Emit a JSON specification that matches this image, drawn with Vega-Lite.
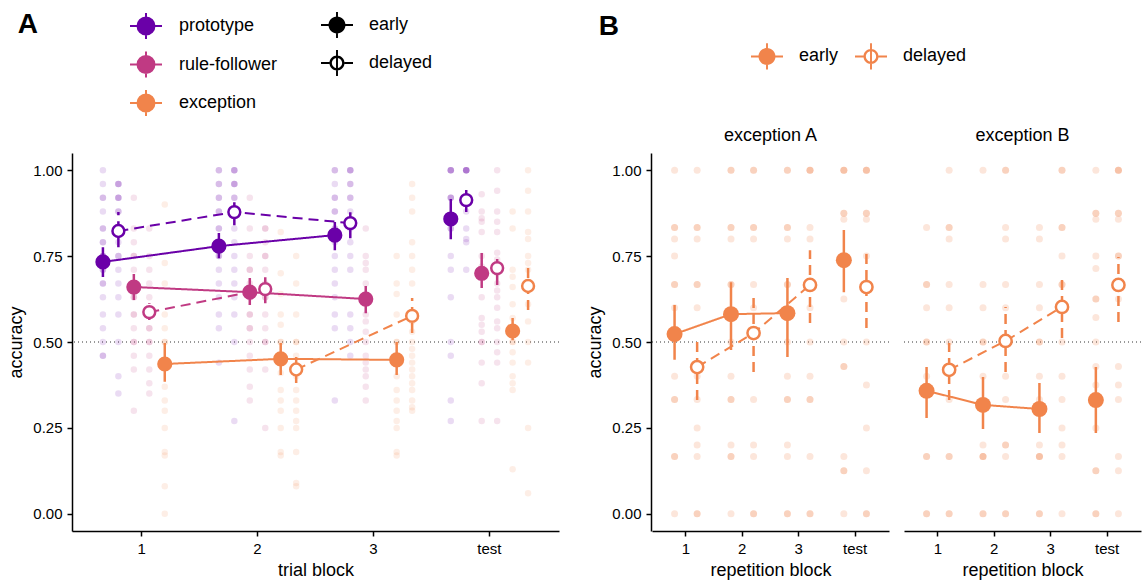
{
"$schema": "https://vega.github.io/schema/vega-lite/v6.json",
"padding": {"left": 7, "top": 9, "right": 2, "bottom": 2},
"config": {
 "font": "Liberation Sans",
 "view": {"stroke": null},
 "axis": {"domainColor": "black", "domainWidth": 1.5, "tickColor": "black", "tickWidth": 1.5, "tickSize": 5, "labelColor": "black", "labelFontSize": 15, "titleFontSize": 18, "titleFontWeight": "normal", "titleColor": "black", "grid": false, "labelPadding": 5, "titlePadding": 7},
 "axisX": {"labelAngle": 0, "labelPadding": 5, "titlePadding": 5},
 "legend": {"labelColor": "black"},
 "title": {"color": "black"}
},
"resolve": {"scale": {"shape": "independent", "xOffset": "independent"}, "legend": {"color": "independent", "shape": "independent"}},
"spacing": 26,
"datasets": {
 "sumA": [
  {"g":"prototype","t":"early","s":"pe","b":"1","m":0.733,"lo":0.689,"hi":0.776},
  {"g":"prototype","t":"early","s":"pe","b":"2","m":0.779,"lo":0.744,"hi":0.817},
  {"g":"prototype","t":"early","s":"pe","b":"3","m":0.811,"lo":0.767,"hi":0.849},
  {"g":"prototype","t":"early","s":"pe","b":"test","m":0.858,"lo":0.799,"hi":0.916},
  {"g":"prototype","t":"delayed","s":"pd","b":"1","m":0.823,"lo":0.776,"hi":0.878},
  {"g":"prototype","t":"delayed","s":"pd","b":"2","m":0.878,"lo":0.840,"hi":0.907},
  {"g":"prototype","t":"delayed","s":"pd","b":"3","m":0.846,"lo":0.802,"hi":0.887},
  {"g":"prototype","t":"delayed","s":"pd","b":"test","m":0.913,"lo":0.878,"hi":0.942},
  {"g":"rule-follower","t":"early","s":"re","b":"1","m":0.660,"lo":0.622,"hi":0.698},
  {"g":"rule-follower","t":"early","s":"re","b":"2","m":0.645,"lo":0.608,"hi":0.686},
  {"g":"rule-follower","t":"early","s":"re","b":"3","m":0.625,"lo":0.584,"hi":0.663},
  {"g":"rule-follower","t":"early","s":"re","b":"test","m":0.700,"lo":0.657,"hi":0.759},
  {"g":"rule-follower","t":"delayed","s":"rd","b":"1","m":0.587,"lo":0.564,"hi":0.613},
  {"g":"rule-follower","t":"delayed","s":"rd","b":"2","m":0.654,"lo":0.613,"hi":0.689},
  {"g":"rule-follower","t":"delayed","s":"rd","b":"test","m":0.715,"lo":0.666,"hi":0.759},
  {"g":"exception","t":"early","s":"ee","b":"1","m":0.436,"lo":0.384,"hi":0.497},
  {"g":"exception","t":"early","s":"ee","b":"2","m":0.451,"lo":0.404,"hi":0.497},
  {"g":"exception","t":"early","s":"ee","b":"3","m":0.448,"lo":0.404,"hi":0.500},
  {"g":"exception","t":"early","s":"ee","b":"test","m":0.532,"lo":0.505,"hi":0.570},
  {"g":"exception","t":"delayed","s":"ed","b":"2","m":0.420,"lo":0.381,"hi":0.462},
  {"g":"exception","t":"delayed","s":"ed","b":"3","m":0.576,"lo":0.526,"hi":0.628},
  {"g":"exception","t":"delayed","s":"ed","b":"test","m":0.663,"lo":0.593,"hi":0.733}
 ],
 "dotsA": [
  {"g":"prototype","s":"pe","b":"1","v":1},{"g":"prototype","s":"pe","b":"1","v":0.96},{"g":"prototype","s":"pe","b":"1","v":0.92},{"g":"prototype","s":"pe","b":"1","v":0.92},{"g":"prototype","s":"pe","b":"1","v":0.88},{"g":"prototype","s":"pe","b":"1","v":0.83},{"g":"prototype","s":"pe","b":"1","v":0.83},{"g":"prototype","s":"pe","b":"1","v":0.79},{"g":"prototype","s":"pe","b":"1","v":0.79},{"g":"prototype","s":"pe","b":"1","v":0.75},{"g":"prototype","s":"pe","b":"1","v":0.75},{"g":"prototype","s":"pe","b":"1","v":0.75},{"g":"prototype","s":"pe","b":"1","v":0.71},{"g":"prototype","s":"pe","b":"1","v":0.71},{"g":"prototype","s":"pe","b":"1","v":0.67},{"g":"prototype","s":"pe","b":"1","v":0.67},{"g":"prototype","s":"pe","b":"1","v":0.63},{"g":"prototype","s":"pe","b":"1","v":0.58},{"g":"prototype","s":"pe","b":"1","v":0.54},{"g":"prototype","s":"pe","b":"1","v":0.5},{"g":"prototype","s":"pe","b":"1","v":0.46},{"g":"prototype","s":"pe","b":"1","v":0.46},
  {"g":"prototype","s":"pd","b":"1","v":0.96},{"g":"prototype","s":"pd","b":"1","v":0.96},{"g":"prototype","s":"pd","b":"1","v":0.96},{"g":"prototype","s":"pd","b":"1","v":0.92},{"g":"prototype","s":"pd","b":"1","v":0.92},{"g":"prototype","s":"pd","b":"1","v":0.92},{"g":"prototype","s":"pd","b":"1","v":0.88},{"g":"prototype","s":"pd","b":"1","v":0.88},{"g":"prototype","s":"pd","b":"1","v":0.83},{"g":"prototype","s":"pd","b":"1","v":0.83},{"g":"prototype","s":"pd","b":"1","v":0.79},{"g":"prototype","s":"pd","b":"1","v":0.75},{"g":"prototype","s":"pd","b":"1","v":0.75},{"g":"prototype","s":"pd","b":"1","v":0.71},{"g":"prototype","s":"pd","b":"1","v":0.67},{"g":"prototype","s":"pd","b":"1","v":0.63},{"g":"prototype","s":"pd","b":"1","v":0.58},{"g":"prototype","s":"pd","b":"1","v":0.5},{"g":"prototype","s":"pd","b":"1","v":0.4},{"g":"prototype","s":"pd","b":"1","v":0.35},
  {"g":"rule-follower","s":"re","b":"1","v":0.92},{"g":"rule-follower","s":"re","b":"1","v":0.83},{"g":"rule-follower","s":"re","b":"1","v":0.79},{"g":"rule-follower","s":"re","b":"1","v":0.75},{"g":"rule-follower","s":"re","b":"1","v":0.75},{"g":"rule-follower","s":"re","b":"1","v":0.71},{"g":"rule-follower","s":"re","b":"1","v":0.67},{"g":"rule-follower","s":"re","b":"1","v":0.67},{"g":"rule-follower","s":"re","b":"1","v":0.63},{"g":"rule-follower","s":"re","b":"1","v":0.63},{"g":"rule-follower","s":"re","b":"1","v":0.58},{"g":"rule-follower","s":"re","b":"1","v":0.58},{"g":"rule-follower","s":"re","b":"1","v":0.54},{"g":"rule-follower","s":"re","b":"1","v":0.5},{"g":"rule-follower","s":"re","b":"1","v":0.5},{"g":"rule-follower","s":"re","b":"1","v":0.46},{"g":"rule-follower","s":"re","b":"1","v":0.42},{"g":"rule-follower","s":"re","b":"1","v":0.3},
  {"g":"rule-follower","s":"rd","b":"1","v":0.83},{"g":"rule-follower","s":"rd","b":"1","v":0.75},{"g":"rule-follower","s":"rd","b":"1","v":0.71},{"g":"rule-follower","s":"rd","b":"1","v":0.67},{"g":"rule-follower","s":"rd","b":"1","v":0.63},{"g":"rule-follower","s":"rd","b":"1","v":0.58},{"g":"rule-follower","s":"rd","b":"1","v":0.58},{"g":"rule-follower","s":"rd","b":"1","v":0.54},{"g":"rule-follower","s":"rd","b":"1","v":0.54},{"g":"rule-follower","s":"rd","b":"1","v":0.5},{"g":"rule-follower","s":"rd","b":"1","v":0.5},{"g":"rule-follower","s":"rd","b":"1","v":0.46},{"g":"rule-follower","s":"rd","b":"1","v":0.42},{"g":"rule-follower","s":"rd","b":"1","v":0.38},{"g":"rule-follower","s":"rd","b":"1","v":0.35},
  {"g":"exception","s":"ee","b":"1","v":0.9},{"g":"exception","s":"ee","b":"1","v":0.73},{"g":"exception","s":"ee","b":"1","v":0.67},{"g":"exception","s":"ee","b":"1","v":0.58},{"g":"exception","s":"ee","b":"1","v":0.54},{"g":"exception","s":"ee","b":"1","v":0.5},{"g":"exception","s":"ee","b":"1","v":0.5},{"g":"exception","s":"ee","b":"1","v":0.37},{"g":"exception","s":"ee","b":"1","v":0.33},{"g":"exception","s":"ee","b":"1","v":0.3},{"g":"exception","s":"ee","b":"1","v":0.25},{"g":"exception","s":"ee","b":"1","v":0.18},{"g":"exception","s":"ee","b":"1","v":0.17},{"g":"exception","s":"ee","b":"1","v":0.08},{"g":"exception","s":"ee","b":"1","v":0},
  {"g":"prototype","s":"pe","b":"2","v":1},{"g":"prototype","s":"pe","b":"2","v":1},{"g":"prototype","s":"pe","b":"2","v":0.96},{"g":"prototype","s":"pe","b":"2","v":0.96},{"g":"prototype","s":"pe","b":"2","v":0.92},{"g":"prototype","s":"pe","b":"2","v":0.92},{"g":"prototype","s":"pe","b":"2","v":0.88},{"g":"prototype","s":"pe","b":"2","v":0.88},{"g":"prototype","s":"pe","b":"2","v":0.83},{"g":"prototype","s":"pe","b":"2","v":0.83},{"g":"prototype","s":"pe","b":"2","v":0.79},{"g":"prototype","s":"pe","b":"2","v":0.79},{"g":"prototype","s":"pe","b":"2","v":0.75},{"g":"prototype","s":"pe","b":"2","v":0.75},{"g":"prototype","s":"pe","b":"2","v":0.71},{"g":"prototype","s":"pe","b":"2","v":0.67},{"g":"prototype","s":"pe","b":"2","v":0.63},{"g":"prototype","s":"pe","b":"2","v":0.58},{"g":"prototype","s":"pe","b":"2","v":0.54},{"g":"prototype","s":"pe","b":"2","v":0.44},
  {"g":"prototype","s":"pd","b":"2","v":1},{"g":"prototype","s":"pd","b":"2","v":1},{"g":"prototype","s":"pd","b":"2","v":1},{"g":"prototype","s":"pd","b":"2","v":0.96},{"g":"prototype","s":"pd","b":"2","v":0.96},{"g":"prototype","s":"pd","b":"2","v":0.96},{"g":"prototype","s":"pd","b":"2","v":0.92},{"g":"prototype","s":"pd","b":"2","v":0.92},{"g":"prototype","s":"pd","b":"2","v":0.88},{"g":"prototype","s":"pd","b":"2","v":0.88},{"g":"prototype","s":"pd","b":"2","v":0.83},{"g":"prototype","s":"pd","b":"2","v":0.79},{"g":"prototype","s":"pd","b":"2","v":0.75},{"g":"prototype","s":"pd","b":"2","v":0.71},{"g":"prototype","s":"pd","b":"2","v":0.67},{"g":"prototype","s":"pd","b":"2","v":0.63},{"g":"prototype","s":"pd","b":"2","v":0.58},{"g":"prototype","s":"pd","b":"2","v":0.5},{"g":"prototype","s":"pd","b":"2","v":0.27},
  {"g":"rule-follower","s":"re","b":"2","v":0.92},{"g":"rule-follower","s":"re","b":"2","v":0.83},{"g":"rule-follower","s":"re","b":"2","v":0.75},{"g":"rule-follower","s":"re","b":"2","v":0.71},{"g":"rule-follower","s":"re","b":"2","v":0.71},{"g":"rule-follower","s":"re","b":"2","v":0.67},{"g":"rule-follower","s":"re","b":"2","v":0.63},{"g":"rule-follower","s":"re","b":"2","v":0.63},{"g":"rule-follower","s":"re","b":"2","v":0.58},{"g":"rule-follower","s":"re","b":"2","v":0.58},{"g":"rule-follower","s":"re","b":"2","v":0.54},{"g":"rule-follower","s":"re","b":"2","v":0.54},{"g":"rule-follower","s":"re","b":"2","v":0.5},{"g":"rule-follower","s":"re","b":"2","v":0.46},{"g":"rule-follower","s":"re","b":"2","v":0.42},{"g":"rule-follower","s":"re","b":"2","v":0.37},{"g":"rule-follower","s":"re","b":"2","v":0.33},
  {"g":"rule-follower","s":"rd","b":"2","v":0.83},{"g":"rule-follower","s":"rd","b":"2","v":0.83},{"g":"rule-follower","s":"rd","b":"2","v":0.79},{"g":"rule-follower","s":"rd","b":"2","v":0.75},{"g":"rule-follower","s":"rd","b":"2","v":0.75},{"g":"rule-follower","s":"rd","b":"2","v":0.71},{"g":"rule-follower","s":"rd","b":"2","v":0.67},{"g":"rule-follower","s":"rd","b":"2","v":0.63},{"g":"rule-follower","s":"rd","b":"2","v":0.63},{"g":"rule-follower","s":"rd","b":"2","v":0.58},{"g":"rule-follower","s":"rd","b":"2","v":0.54},{"g":"rule-follower","s":"rd","b":"2","v":0.5},{"g":"rule-follower","s":"rd","b":"2","v":0.5},{"g":"rule-follower","s":"rd","b":"2","v":0.42},{"g":"rule-follower","s":"rd","b":"2","v":0.25},
  {"g":"exception","s":"ee","b":"2","v":0.82},{"g":"exception","s":"ee","b":"2","v":0.7},{"g":"exception","s":"ee","b":"2","v":0.64},{"g":"exception","s":"ee","b":"2","v":0.58},{"g":"exception","s":"ee","b":"2","v":0.55},{"g":"exception","s":"ee","b":"2","v":0.5},{"g":"exception","s":"ee","b":"2","v":0.5},{"g":"exception","s":"ee","b":"2","v":0.45},{"g":"exception","s":"ee","b":"2","v":0.41},{"g":"exception","s":"ee","b":"2","v":0.36},{"g":"exception","s":"ee","b":"2","v":0.33},{"g":"exception","s":"ee","b":"2","v":0.3},{"g":"exception","s":"ee","b":"2","v":0.25},{"g":"exception","s":"ee","b":"2","v":0.18},{"g":"exception","s":"ee","b":"2","v":0.17},
  {"g":"exception","s":"ed","b":"2","v":0.75},{"g":"exception","s":"ed","b":"2","v":0.67},{"g":"exception","s":"ed","b":"2","v":0.58},{"g":"exception","s":"ed","b":"2","v":0.5},{"g":"exception","s":"ed","b":"2","v":0.5},{"g":"exception","s":"ed","b":"2","v":0.46},{"g":"exception","s":"ed","b":"2","v":0.4},{"g":"exception","s":"ed","b":"2","v":0.36},{"g":"exception","s":"ed","b":"2","v":0.33},{"g":"exception","s":"ed","b":"2","v":0.3},{"g":"exception","s":"ed","b":"2","v":0.27},{"g":"exception","s":"ed","b":"2","v":0.25},{"g":"exception","s":"ed","b":"2","v":0.18},{"g":"exception","s":"ed","b":"2","v":0.09},{"g":"exception","s":"ed","b":"2","v":0.08},
  {"g":"prototype","s":"pe","b":"3","v":1},{"g":"prototype","s":"pe","b":"3","v":1},{"g":"prototype","s":"pe","b":"3","v":0.96},{"g":"prototype","s":"pe","b":"3","v":0.92},{"g":"prototype","s":"pe","b":"3","v":0.92},{"g":"prototype","s":"pe","b":"3","v":0.88},{"g":"prototype","s":"pe","b":"3","v":0.88},{"g":"prototype","s":"pe","b":"3","v":0.83},{"g":"prototype","s":"pe","b":"3","v":0.83},{"g":"prototype","s":"pe","b":"3","v":0.79},{"g":"prototype","s":"pe","b":"3","v":0.75},{"g":"prototype","s":"pe","b":"3","v":0.71},{"g":"prototype","s":"pe","b":"3","v":0.67},{"g":"prototype","s":"pe","b":"3","v":0.63},{"g":"prototype","s":"pe","b":"3","v":0.58},{"g":"prototype","s":"pe","b":"3","v":0.54},{"g":"prototype","s":"pe","b":"3","v":0.33},
  {"g":"prototype","s":"pd","b":"3","v":1},{"g":"prototype","s":"pd","b":"3","v":1},{"g":"prototype","s":"pd","b":"3","v":1},{"g":"prototype","s":"pd","b":"3","v":0.96},{"g":"prototype","s":"pd","b":"3","v":0.96},{"g":"prototype","s":"pd","b":"3","v":0.92},{"g":"prototype","s":"pd","b":"3","v":0.92},{"g":"prototype","s":"pd","b":"3","v":0.88},{"g":"prototype","s":"pd","b":"3","v":0.83},{"g":"prototype","s":"pd","b":"3","v":0.79},{"g":"prototype","s":"pd","b":"3","v":0.75},{"g":"prototype","s":"pd","b":"3","v":0.71},{"g":"prototype","s":"pd","b":"3","v":0.58},{"g":"prototype","s":"pd","b":"3","v":0.54},{"g":"prototype","s":"pd","b":"3","v":0.5},{"g":"prototype","s":"pd","b":"3","v":0.46},
  {"g":"rule-follower","s":"re","b":"3","v":0.83},{"g":"rule-follower","s":"re","b":"3","v":0.75},{"g":"rule-follower","s":"re","b":"3","v":0.73},{"g":"rule-follower","s":"re","b":"3","v":0.71},{"g":"rule-follower","s":"re","b":"3","v":0.67},{"g":"rule-follower","s":"re","b":"3","v":0.64},{"g":"rule-follower","s":"re","b":"3","v":0.58},{"g":"rule-follower","s":"re","b":"3","v":0.56},{"g":"rule-follower","s":"re","b":"3","v":0.53},{"g":"rule-follower","s":"re","b":"3","v":0.5},{"g":"rule-follower","s":"re","b":"3","v":0.46},{"g":"rule-follower","s":"re","b":"3","v":0.44},{"g":"rule-follower","s":"re","b":"3","v":0.42},{"g":"rule-follower","s":"re","b":"3","v":0.4},{"g":"rule-follower","s":"re","b":"3","v":0.37},{"g":"rule-follower","s":"re","b":"3","v":0.33},
  {"g":"exception","s":"ee","b":"3","v":0.75},{"g":"exception","s":"ee","b":"3","v":0.67},{"g":"exception","s":"ee","b":"3","v":0.64},{"g":"exception","s":"ee","b":"3","v":0.58},{"g":"exception","s":"ee","b":"3","v":0.5},{"g":"exception","s":"ee","b":"3","v":0.5},{"g":"exception","s":"ee","b":"3","v":0.4},{"g":"exception","s":"ee","b":"3","v":0.36},{"g":"exception","s":"ee","b":"3","v":0.33},{"g":"exception","s":"ee","b":"3","v":0.3},{"g":"exception","s":"ee","b":"3","v":0.27},{"g":"exception","s":"ee","b":"3","v":0.25},{"g":"exception","s":"ee","b":"3","v":0.18},{"g":"exception","s":"ee","b":"3","v":0.17},
  {"g":"exception","s":"ed","b":"3","v":0.96},{"g":"exception","s":"ed","b":"3","v":0.92},{"g":"exception","s":"ed","b":"3","v":0.88},{"g":"exception","s":"ed","b":"3","v":0.79},{"g":"exception","s":"ed","b":"3","v":0.75},{"g":"exception","s":"ed","b":"3","v":0.71},{"g":"exception","s":"ed","b":"3","v":0.67},{"g":"exception","s":"ed","b":"3","v":0.58},{"g":"exception","s":"ed","b":"3","v":0.56},{"g":"exception","s":"ed","b":"3","v":0.53},{"g":"exception","s":"ed","b":"3","v":0.5},{"g":"exception","s":"ed","b":"3","v":0.48},{"g":"exception","s":"ed","b":"3","v":0.46},{"g":"exception","s":"ed","b":"3","v":0.44},{"g":"exception","s":"ed","b":"3","v":0.42},{"g":"exception","s":"ed","b":"3","v":0.4},{"g":"exception","s":"ed","b":"3","v":0.38},{"g":"exception","s":"ed","b":"3","v":0.36},{"g":"exception","s":"ed","b":"3","v":0.33},{"g":"exception","s":"ed","b":"3","v":0.31},{"g":"exception","s":"ed","b":"3","v":0.3},
  {"g":"prototype","s":"pe","b":"test","v":1},{"g":"prototype","s":"pe","b":"test","v":1},{"g":"prototype","s":"pe","b":"test","v":1},{"g":"prototype","s":"pe","b":"test","v":1},{"g":"prototype","s":"pe","b":"test","v":0.92},{"g":"prototype","s":"pe","b":"test","v":0.92},{"g":"prototype","s":"pe","b":"test","v":0.92},{"g":"prototype","s":"pe","b":"test","v":0.83},{"g":"prototype","s":"pe","b":"test","v":0.83},{"g":"prototype","s":"pe","b":"test","v":0.75},{"g":"prototype","s":"pe","b":"test","v":0.71},{"g":"prototype","s":"pe","b":"test","v":0.63},{"g":"prototype","s":"pe","b":"test","v":0.5},{"g":"prototype","s":"pe","b":"test","v":0.46},{"g":"prototype","s":"pe","b":"test","v":0.33},{"g":"prototype","s":"pe","b":"test","v":0.27},
  {"g":"prototype","s":"pd","b":"test","v":1},{"g":"prototype","s":"pd","b":"test","v":1},{"g":"prototype","s":"pd","b":"test","v":1},{"g":"prototype","s":"pd","b":"test","v":1},{"g":"prototype","s":"pd","b":"test","v":1},{"g":"prototype","s":"pd","b":"test","v":0.92},{"g":"prototype","s":"pd","b":"test","v":0.92},{"g":"prototype","s":"pd","b":"test","v":0.92},{"g":"prototype","s":"pd","b":"test","v":0.88},{"g":"prototype","s":"pd","b":"test","v":0.83},{"g":"prototype","s":"pd","b":"test","v":0.8},{"g":"prototype","s":"pd","b":"test","v":0.79},{"g":"prototype","s":"pd","b":"test","v":0.71},
  {"g":"rule-follower","s":"re","b":"test","v":0.93},{"g":"rule-follower","s":"re","b":"test","v":0.88},{"g":"rule-follower","s":"re","b":"test","v":0.86},{"g":"rule-follower","s":"re","b":"test","v":0.85},{"g":"rule-follower","s":"re","b":"test","v":0.82},{"g":"rule-follower","s":"re","b":"test","v":0.75},{"g":"rule-follower","s":"re","b":"test","v":0.72},{"g":"rule-follower","s":"re","b":"test","v":0.7},{"g":"rule-follower","s":"re","b":"test","v":0.63},{"g":"rule-follower","s":"re","b":"test","v":0.57},{"g":"rule-follower","s":"re","b":"test","v":0.55},{"g":"rule-follower","s":"re","b":"test","v":0.53},{"g":"rule-follower","s":"re","b":"test","v":0.5},{"g":"rule-follower","s":"re","b":"test","v":0.5},{"g":"rule-follower","s":"re","b":"test","v":0.44},{"g":"rule-follower","s":"re","b":"test","v":0.38},{"g":"rule-follower","s":"re","b":"test","v":0.27},
  {"g":"rule-follower","s":"rd","b":"test","v":1},{"g":"rule-follower","s":"rd","b":"test","v":0.94},{"g":"rule-follower","s":"rd","b":"test","v":0.88},{"g":"rule-follower","s":"rd","b":"test","v":0.85},{"g":"rule-follower","s":"rd","b":"test","v":0.82},{"g":"rule-follower","s":"rd","b":"test","v":0.76},{"g":"rule-follower","s":"rd","b":"test","v":0.74},{"g":"rule-follower","s":"rd","b":"test","v":0.7},{"g":"rule-follower","s":"rd","b":"test","v":0.67},{"g":"rule-follower","s":"rd","b":"test","v":0.65},{"g":"rule-follower","s":"rd","b":"test","v":0.63},{"g":"rule-follower","s":"rd","b":"test","v":0.6},{"g":"rule-follower","s":"rd","b":"test","v":0.56},{"g":"rule-follower","s":"rd","b":"test","v":0.54},{"g":"rule-follower","s":"rd","b":"test","v":0.5},{"g":"rule-follower","s":"rd","b":"test","v":0.47},{"g":"rule-follower","s":"rd","b":"test","v":0.44},{"g":"rule-follower","s":"rd","b":"test","v":0.27},
  {"g":"exception","s":"ee","b":"test","v":0.88},{"g":"exception","s":"ee","b":"test","v":0.83},{"g":"exception","s":"ee","b":"test","v":0.71},{"g":"exception","s":"ee","b":"test","v":0.69},{"g":"exception","s":"ee","b":"test","v":0.66},{"g":"exception","s":"ee","b":"test","v":0.61},{"g":"exception","s":"ee","b":"test","v":0.57},{"g":"exception","s":"ee","b":"test","v":0.5},{"g":"exception","s":"ee","b":"test","v":0.5},{"g":"exception","s":"ee","b":"test","v":0.47},{"g":"exception","s":"ee","b":"test","v":0.44},{"g":"exception","s":"ee","b":"test","v":0.4},{"g":"exception","s":"ee","b":"test","v":0.38},{"g":"exception","s":"ee","b":"test","v":0.36},{"g":"exception","s":"ee","b":"test","v":0.13},
  {"g":"exception","s":"ed","b":"test","v":1},{"g":"exception","s":"ed","b":"test","v":0.94},{"g":"exception","s":"ed","b":"test","v":0.88},{"g":"exception","s":"ed","b":"test","v":0.82},{"g":"exception","s":"ed","b":"test","v":0.8},{"g":"exception","s":"ed","b":"test","v":0.75},{"g":"exception","s":"ed","b":"test","v":0.73},{"g":"exception","s":"ed","b":"test","v":0.71},{"g":"exception","s":"ed","b":"test","v":0.67},{"g":"exception","s":"ed","b":"test","v":0.61},{"g":"exception","s":"ed","b":"test","v":0.56},{"g":"exception","s":"ed","b":"test","v":0.5},{"g":"exception","s":"ed","b":"test","v":0.44},{"g":"exception","s":"ed","b":"test","v":0.25},{"g":"exception","s":"ed","b":"test","v":0.06}
 ],
 "dataB": [
  {"k":"s","i":"exception A","t":"early","b":"1","m":0.523,"lo":0.448,"hi":0.608},
  {"k":"s","i":"exception A","t":"early","b":"2","m":0.581,"lo":0.477,"hi":0.674},
  {"k":"s","i":"exception A","t":"early","b":"3","m":0.584,"lo":0.456,"hi":0.686},
  {"k":"s","i":"exception A","t":"early","b":"test","m":0.738,"lo":0.645,"hi":0.826},
  {"k":"s","i":"exception A","t":"delayed","b":"1","m":0.427,"lo":0.331,"hi":0.515},
  {"k":"s","i":"exception A","t":"delayed","b":"2","m":0.526,"lo":0.413,"hi":0.628},
  {"k":"s","i":"exception A","t":"delayed","b":"3","m":0.666,"lo":0.555,"hi":0.767},
  {"k":"s","i":"exception A","t":"delayed","b":"test","m":0.660,"lo":0.541,"hi":0.767},
  {"k":"s","i":"exception B","t":"early","b":"1","m":0.358,"lo":0.279,"hi":0.427},
  {"k":"s","i":"exception B","t":"early","b":"2","m":0.317,"lo":0.247,"hi":0.398},
  {"k":"s","i":"exception B","t":"early","b":"3","m":0.305,"lo":0.235,"hi":0.381},
  {"k":"s","i":"exception B","t":"early","b":"test","m":0.331,"lo":0.235,"hi":0.427},
  {"k":"s","i":"exception B","t":"delayed","b":"1","m":0.419,"lo":0.331,"hi":0.497},
  {"k":"s","i":"exception B","t":"delayed","b":"2","m":0.503,"lo":0.413,"hi":0.602},
  {"k":"s","i":"exception B","t":"delayed","b":"3","m":0.602,"lo":0.512,"hi":0.695},
  {"k":"s","i":"exception B","t":"delayed","b":"test","m":0.666,"lo":0.558,"hi":0.747},
  {"k":"d","i":"exception A","t":"early","b":"1","v":1},{"k":"d","i":"exception A","t":"early","b":"1","v":0.833},{"k":"d","i":"exception A","t":"early","b":"1","v":0.833},{"k":"d","i":"exception A","t":"early","b":"1","v":0.8},{"k":"d","i":"exception A","t":"early","b":"1","v":0.75},{"k":"d","i":"exception A","t":"early","b":"1","v":0.667},{"k":"d","i":"exception A","t":"early","b":"1","v":0.667},{"k":"d","i":"exception A","t":"early","b":"1","v":0.6},{"k":"d","i":"exception A","t":"early","b":"1","v":0.4},{"k":"d","i":"exception A","t":"early","b":"1","v":0.333},{"k":"d","i":"exception A","t":"early","b":"1","v":0.333},{"k":"d","i":"exception A","t":"early","b":"1","v":0.167},{"k":"d","i":"exception A","t":"early","b":"1","v":0.167},{"k":"d","i":"exception A","t":"early","b":"1","v":0},
  {"k":"d","i":"exception A","t":"delayed","b":"1","v":1},{"k":"d","i":"exception A","t":"delayed","b":"1","v":0.833},{"k":"d","i":"exception A","t":"delayed","b":"1","v":0.833},{"k":"d","i":"exception A","t":"delayed","b":"1","v":0.8},{"k":"d","i":"exception A","t":"delayed","b":"1","v":0.667},{"k":"d","i":"exception A","t":"delayed","b":"1","v":0.667},{"k":"d","i":"exception A","t":"delayed","b":"1","v":0.6},{"k":"d","i":"exception A","t":"delayed","b":"1","v":0.4},{"k":"d","i":"exception A","t":"delayed","b":"1","v":0.333},{"k":"d","i":"exception A","t":"delayed","b":"1","v":0.25},{"k":"d","i":"exception A","t":"delayed","b":"1","v":0.2},{"k":"d","i":"exception A","t":"delayed","b":"1","v":0.167},{"k":"d","i":"exception A","t":"delayed","b":"1","v":0},{"k":"d","i":"exception A","t":"delayed","b":"1","v":0},
  {"k":"d","i":"exception A","t":"early","b":"2","v":1},{"k":"d","i":"exception A","t":"early","b":"2","v":1},{"k":"d","i":"exception A","t":"early","b":"2","v":0.833},{"k":"d","i":"exception A","t":"early","b":"2","v":0.833},{"k":"d","i":"exception A","t":"early","b":"2","v":0.8},{"k":"d","i":"exception A","t":"early","b":"2","v":0.667},{"k":"d","i":"exception A","t":"early","b":"2","v":0.667},{"k":"d","i":"exception A","t":"early","b":"2","v":0.5},{"k":"d","i":"exception A","t":"early","b":"2","v":0.4},{"k":"d","i":"exception A","t":"early","b":"2","v":0.333},{"k":"d","i":"exception A","t":"early","b":"2","v":0.333},{"k":"d","i":"exception A","t":"early","b":"2","v":0.2},{"k":"d","i":"exception A","t":"early","b":"2","v":0.167},{"k":"d","i":"exception A","t":"early","b":"2","v":0.167},{"k":"d","i":"exception A","t":"early","b":"2","v":0},
  {"k":"d","i":"exception A","t":"delayed","b":"2","v":1},{"k":"d","i":"exception A","t":"delayed","b":"2","v":1},{"k":"d","i":"exception A","t":"delayed","b":"2","v":0.833},{"k":"d","i":"exception A","t":"delayed","b":"2","v":0.833},{"k":"d","i":"exception A","t":"delayed","b":"2","v":0.8},{"k":"d","i":"exception A","t":"delayed","b":"2","v":0.667},{"k":"d","i":"exception A","t":"delayed","b":"2","v":0.6},{"k":"d","i":"exception A","t":"delayed","b":"2","v":0.333},{"k":"d","i":"exception A","t":"delayed","b":"2","v":0.2},{"k":"d","i":"exception A","t":"delayed","b":"2","v":0.167},{"k":"d","i":"exception A","t":"delayed","b":"2","v":0},{"k":"d","i":"exception A","t":"delayed","b":"2","v":0},
  {"k":"d","i":"exception A","t":"early","b":"3","v":1},{"k":"d","i":"exception A","t":"early","b":"3","v":1},{"k":"d","i":"exception A","t":"early","b":"3","v":0.833},{"k":"d","i":"exception A","t":"early","b":"3","v":0.833},{"k":"d","i":"exception A","t":"early","b":"3","v":0.8},{"k":"d","i":"exception A","t":"early","b":"3","v":0.667},{"k":"d","i":"exception A","t":"early","b":"3","v":0.667},{"k":"d","i":"exception A","t":"early","b":"3","v":0.5},{"k":"d","i":"exception A","t":"early","b":"3","v":0.4},{"k":"d","i":"exception A","t":"early","b":"3","v":0.333},{"k":"d","i":"exception A","t":"early","b":"3","v":0.333},{"k":"d","i":"exception A","t":"early","b":"3","v":0.2},{"k":"d","i":"exception A","t":"early","b":"3","v":0.167},{"k":"d","i":"exception A","t":"early","b":"3","v":0},{"k":"d","i":"exception A","t":"early","b":"3","v":0},
  {"k":"d","i":"exception A","t":"delayed","b":"3","v":1},{"k":"d","i":"exception A","t":"delayed","b":"3","v":1},{"k":"d","i":"exception A","t":"delayed","b":"3","v":1},{"k":"d","i":"exception A","t":"delayed","b":"3","v":0.833},{"k":"d","i":"exception A","t":"delayed","b":"3","v":0.8},{"k":"d","i":"exception A","t":"delayed","b":"3","v":0.6},{"k":"d","i":"exception A","t":"delayed","b":"3","v":0.5},{"k":"d","i":"exception A","t":"delayed","b":"3","v":0.4},{"k":"d","i":"exception A","t":"delayed","b":"3","v":0.333},{"k":"d","i":"exception A","t":"delayed","b":"3","v":0.333},{"k":"d","i":"exception A","t":"delayed","b":"3","v":0.167},{"k":"d","i":"exception A","t":"delayed","b":"3","v":0},{"k":"d","i":"exception A","t":"delayed","b":"3","v":0},
  {"k":"d","i":"exception A","t":"early","b":"test","v":1},{"k":"d","i":"exception A","t":"early","b":"test","v":1},{"k":"d","i":"exception A","t":"early","b":"test","v":1},{"k":"d","i":"exception A","t":"early","b":"test","v":0.875},{"k":"d","i":"exception A","t":"early","b":"test","v":0.875},{"k":"d","i":"exception A","t":"early","b":"test","v":0.857},{"k":"d","i":"exception A","t":"early","b":"test","v":0.625},{"k":"d","i":"exception A","t":"early","b":"test","v":0.5},{"k":"d","i":"exception A","t":"early","b":"test","v":0.429},{"k":"d","i":"exception A","t":"early","b":"test","v":0.429},{"k":"d","i":"exception A","t":"early","b":"test","v":0.167},{"k":"d","i":"exception A","t":"early","b":"test","v":0.125},{"k":"d","i":"exception A","t":"early","b":"test","v":0.125},{"k":"d","i":"exception A","t":"early","b":"test","v":0},
  {"k":"d","i":"exception A","t":"delayed","b":"test","v":1},{"k":"d","i":"exception A","t":"delayed","b":"test","v":1},{"k":"d","i":"exception A","t":"delayed","b":"test","v":1},{"k":"d","i":"exception A","t":"delayed","b":"test","v":0.875},{"k":"d","i":"exception A","t":"delayed","b":"test","v":0.875},{"k":"d","i":"exception A","t":"delayed","b":"test","v":0.857},{"k":"d","i":"exception A","t":"delayed","b":"test","v":0.75},{"k":"d","i":"exception A","t":"delayed","b":"test","v":0.5},{"k":"d","i":"exception A","t":"delayed","b":"test","v":0.375},{"k":"d","i":"exception A","t":"delayed","b":"test","v":0.25},{"k":"d","i":"exception A","t":"delayed","b":"test","v":0.125},{"k":"d","i":"exception A","t":"delayed","b":"test","v":0},{"k":"d","i":"exception A","t":"delayed","b":"test","v":0},
  {"k":"d","i":"exception B","t":"early","b":"1","v":0.833},{"k":"d","i":"exception B","t":"early","b":"1","v":0.667},{"k":"d","i":"exception B","t":"early","b":"1","v":0.667},{"k":"d","i":"exception B","t":"early","b":"1","v":0.6},{"k":"d","i":"exception B","t":"early","b":"1","v":0.5},{"k":"d","i":"exception B","t":"early","b":"1","v":0.5},{"k":"d","i":"exception B","t":"early","b":"1","v":0.4},{"k":"d","i":"exception B","t":"early","b":"1","v":0.167},{"k":"d","i":"exception B","t":"early","b":"1","v":0.167},{"k":"d","i":"exception B","t":"early","b":"1","v":0},{"k":"d","i":"exception B","t":"early","b":"1","v":0},
  {"k":"d","i":"exception B","t":"delayed","b":"1","v":1},{"k":"d","i":"exception B","t":"delayed","b":"1","v":0.833},{"k":"d","i":"exception B","t":"delayed","b":"1","v":0.833},{"k":"d","i":"exception B","t":"delayed","b":"1","v":0.8},{"k":"d","i":"exception B","t":"delayed","b":"1","v":0.667},{"k":"d","i":"exception B","t":"delayed","b":"1","v":0.6},{"k":"d","i":"exception B","t":"delayed","b":"1","v":0.5},{"k":"d","i":"exception B","t":"delayed","b":"1","v":0.333},{"k":"d","i":"exception B","t":"delayed","b":"1","v":0.167},{"k":"d","i":"exception B","t":"delayed","b":"1","v":0.167},{"k":"d","i":"exception B","t":"delayed","b":"1","v":0},{"k":"d","i":"exception B","t":"delayed","b":"1","v":0},
  {"k":"d","i":"exception B","t":"early","b":"2","v":1},{"k":"d","i":"exception B","t":"early","b":"2","v":0.667},{"k":"d","i":"exception B","t":"early","b":"2","v":0.6},{"k":"d","i":"exception B","t":"early","b":"2","v":0.5},{"k":"d","i":"exception B","t":"early","b":"2","v":0.5},{"k":"d","i":"exception B","t":"early","b":"2","v":0.4},{"k":"d","i":"exception B","t":"early","b":"2","v":0.2},{"k":"d","i":"exception B","t":"early","b":"2","v":0.167},{"k":"d","i":"exception B","t":"early","b":"2","v":0.167},{"k":"d","i":"exception B","t":"early","b":"2","v":0.167},{"k":"d","i":"exception B","t":"early","b":"2","v":0},{"k":"d","i":"exception B","t":"early","b":"2","v":0},
  {"k":"d","i":"exception B","t":"delayed","b":"2","v":1},{"k":"d","i":"exception B","t":"delayed","b":"2","v":1},{"k":"d","i":"exception B","t":"delayed","b":"2","v":0.833},{"k":"d","i":"exception B","t":"delayed","b":"2","v":0.8},{"k":"d","i":"exception B","t":"delayed","b":"2","v":0.667},{"k":"d","i":"exception B","t":"delayed","b":"2","v":0.6},{"k":"d","i":"exception B","t":"delayed","b":"2","v":0.4},{"k":"d","i":"exception B","t":"delayed","b":"2","v":0.333},{"k":"d","i":"exception B","t":"delayed","b":"2","v":0.2},{"k":"d","i":"exception B","t":"delayed","b":"2","v":0.2},{"k":"d","i":"exception B","t":"delayed","b":"2","v":0.167},{"k":"d","i":"exception B","t":"delayed","b":"2","v":0},{"k":"d","i":"exception B","t":"delayed","b":"2","v":0},
  {"k":"d","i":"exception B","t":"early","b":"3","v":0.833},{"k":"d","i":"exception B","t":"early","b":"3","v":0.8},{"k":"d","i":"exception B","t":"early","b":"3","v":0.667},{"k":"d","i":"exception B","t":"early","b":"3","v":0.6},{"k":"d","i":"exception B","t":"early","b":"3","v":0.5},{"k":"d","i":"exception B","t":"early","b":"3","v":0.5},{"k":"d","i":"exception B","t":"early","b":"3","v":0.4},{"k":"d","i":"exception B","t":"early","b":"3","v":0.333},{"k":"d","i":"exception B","t":"early","b":"3","v":0.2},{"k":"d","i":"exception B","t":"early","b":"3","v":0.167},{"k":"d","i":"exception B","t":"early","b":"3","v":0.167},{"k":"d","i":"exception B","t":"early","b":"3","v":0.167},{"k":"d","i":"exception B","t":"early","b":"3","v":0},{"k":"d","i":"exception B","t":"early","b":"3","v":0},
  {"k":"d","i":"exception B","t":"delayed","b":"3","v":1},{"k":"d","i":"exception B","t":"delayed","b":"3","v":1},{"k":"d","i":"exception B","t":"delayed","b":"3","v":0.833},{"k":"d","i":"exception B","t":"delayed","b":"3","v":0.833},{"k":"d","i":"exception B","t":"delayed","b":"3","v":0.75},{"k":"d","i":"exception B","t":"delayed","b":"3","v":0.667},{"k":"d","i":"exception B","t":"delayed","b":"3","v":0.667},{"k":"d","i":"exception B","t":"delayed","b":"3","v":0.6},{"k":"d","i":"exception B","t":"delayed","b":"3","v":0.5},{"k":"d","i":"exception B","t":"delayed","b":"3","v":0.4},{"k":"d","i":"exception B","t":"delayed","b":"3","v":0.333},{"k":"d","i":"exception B","t":"delayed","b":"3","v":0.25},{"k":"d","i":"exception B","t":"delayed","b":"3","v":0.2},{"k":"d","i":"exception B","t":"delayed","b":"3","v":0.167},{"k":"d","i":"exception B","t":"delayed","b":"3","v":0},
  {"k":"d","i":"exception B","t":"early","b":"test","v":1},{"k":"d","i":"exception B","t":"early","b":"test","v":0.875},{"k":"d","i":"exception B","t":"early","b":"test","v":0.875},{"k":"d","i":"exception B","t":"early","b":"test","v":0.857},{"k":"d","i":"exception B","t":"early","b":"test","v":0.75},{"k":"d","i":"exception B","t":"early","b":"test","v":0.714},{"k":"d","i":"exception B","t":"early","b":"test","v":0.625},{"k":"d","i":"exception B","t":"early","b":"test","v":0.625},{"k":"d","i":"exception B","t":"early","b":"test","v":0.571},{"k":"d","i":"exception B","t":"early","b":"test","v":0.5},{"k":"d","i":"exception B","t":"early","b":"test","v":0.429},{"k":"d","i":"exception B","t":"early","b":"test","v":0.375},{"k":"d","i":"exception B","t":"early","b":"test","v":0.333},{"k":"d","i":"exception B","t":"early","b":"test","v":0.25},{"k":"d","i":"exception B","t":"early","b":"test","v":0.125},{"k":"d","i":"exception B","t":"early","b":"test","v":0.125},{"k":"d","i":"exception B","t":"early","b":"test","v":0},{"k":"d","i":"exception B","t":"early","b":"test","v":0},
  {"k":"d","i":"exception B","t":"delayed","b":"test","v":1},{"k":"d","i":"exception B","t":"delayed","b":"test","v":1},{"k":"d","i":"exception B","t":"delayed","b":"test","v":1},{"k":"d","i":"exception B","t":"delayed","b":"test","v":0.875},{"k":"d","i":"exception B","t":"delayed","b":"test","v":0.875},{"k":"d","i":"exception B","t":"delayed","b":"test","v":0.857},{"k":"d","i":"exception B","t":"delayed","b":"test","v":0.75},{"k":"d","i":"exception B","t":"delayed","b":"test","v":0.75},{"k":"d","i":"exception B","t":"delayed","b":"test","v":0.625},{"k":"d","i":"exception B","t":"delayed","b":"test","v":0.429},{"k":"d","i":"exception B","t":"delayed","b":"test","v":0.375},{"k":"d","i":"exception B","t":"delayed","b":"test","v":0.333},{"k":"d","i":"exception B","t":"delayed","b":"test","v":0.167},{"k":"d","i":"exception B","t":"delayed","b":"test","v":0.125},{"k":"d","i":"exception B","t":"delayed","b":"test","v":0}
 ]
},
"hconcat": [
 {
  "width": 487, "height": 378,
  "title": {"text": "A", "anchor": "start", "frame": "bounds", "fontSize": 28, "fontWeight": "bold", "dx": 10, "dy": 34},
  "layer": [
   {"data": {"values": [{}]}, "mark": {"type": "rule", "strokeDash": [1, 3], "color": "#333333", "strokeWidth": 1}, "encoding": {"y": {"datum": 0.5, "type": "quantitative", "scale": {"domain": [-0.05, 1.05], "nice": false, "zero": false}}}},
   {"data": {"name": "dotsA"}, "mark": {"type": "point", "filled": true, "size": 42, "opacity": 0.14},
    "encoding": {
     "x": {"field": "b", "type": "nominal", "scale": {"type": "band", "domain": ["1","2","3","test"], "paddingInner": 0, "paddingOuter": 0.1}, "axis": {"title": "trial block"}},
     "xOffset": {"field": "s", "type": "nominal", "scale": {"domain": ["pe","pd","re","rd","ee","ed"], "paddingInner": 0, "paddingOuter": 0.75}},
     "y": {"field": "v", "type": "quantitative", "scale": {"domain": [-0.05, 1.05], "nice": false, "zero": false}, "axis": {"title": "accuracy", "values": [0, 0.25, 0.5, 0.75, 1], "format": ".2f"}},
     "color": {"field": "g", "type": "nominal", "scale": {"domain": ["prototype","rule-follower","exception"], "range": ["#6a00a8","#c03a83","#f1844b"]}, "legend": {"title": null, "orient": "none", "legendX": 57, "legendY": -144, "symbolType": "M-1,0H-0.53M0.53,0H1M0,-0.82V0.82M0.53,0A0.53,0.53,0,1,1,-0.53,0A0.53,0.53,0,1,1,0.53,0Z", "symbolSize": 1024, "symbolStrokeWidth": 2, "symbolOpacity": 1, "labelFontSize": 18, "labelOffset": 16, "rowPadding": 2.5}}
    }},
   {"data": {"name": "sumA"}, "transform": [{"filter": "datum.b !== 'test'"}], "mark": {"type": "line", "strokeWidth": 2},
    "encoding": {
     "x": {"field": "b", "type": "nominal"},
     "xOffset": {"field": "s", "type": "nominal"},
     "y": {"field": "m", "type": "quantitative"},
     "color": {"field": "g", "type": "nominal"},
     "detail": {"field": "s"},
     "strokeDash": {"field": "t", "type": "nominal", "scale": {"domain": ["early","delayed"], "range": [[1,0],[10,6]]}, "legend": null}
    }},
   {"data": {"name": "sumA"}, "mark": {"type": "rule", "strokeWidth": 2.5},
    "encoding": {
     "x": {"field": "b", "type": "nominal"},
     "xOffset": {"field": "s", "type": "nominal"},
     "y": {"field": "lo", "type": "quantitative"},
     "y2": {"field": "hi"},
     "color": {"field": "g", "type": "nominal"},
     "strokeDash": {"field": "t", "type": "nominal", "legend": null}
    }},
   {"data": {"name": "sumA"}, "transform": [{"filter": "datum.t === 'early'"}], "mark": {"type": "point", "filled": true, "size": 230, "opacity": 1},
    "encoding": {
     "x": {"field": "b", "type": "nominal"},
     "xOffset": {"field": "s", "type": "nominal"},
     "y": {"field": "m", "type": "quantitative"},
     "color": {"field": "g", "type": "nominal"}
    }},
   {"data": {"name": "sumA"}, "transform": [{"filter": "datum.t === 'delayed'"}], "mark": {"type": "point", "filled": false, "fill": "white", "size": 140, "strokeWidth": 2.5, "opacity": 1},
    "encoding": {
     "x": {"field": "b", "type": "nominal"},
     "xOffset": {"field": "s", "type": "nominal"},
     "y": {"field": "m", "type": "quantitative"},
     "color": {"field": "g", "type": "nominal"}
    }},
   {"data": {"name": "sumA"}, "mark": {"type": "point", "filled": true, "opacity": 0, "color": "black"},
    "encoding": {
     "x": {"field": "b", "type": "nominal"},
     "xOffset": {"field": "s", "type": "nominal"},
     "y": {"field": "m", "type": "quantitative"},
     "shape": {"field": "t", "type": "nominal", "scale": {"domain": ["early","delayed"], "range": ["M-1,-0.06H1V0.06H-1ZM-0.06,-0.82H0.06V0.82H-0.06ZM0.53,0A0.53,0.53,0,1,1,-0.53,0A0.53,0.53,0,1,1,0.53,0Z", "M-1,-0.06H-0.47V0.06H-1ZM0.47,-0.06H1V0.06H0.47ZM-0.06,-0.82H0.06V0.82H-0.06ZM0.47,0A0.47,0.47,0,1,1,-0.47,0A0.47,0.47,0,1,1,0.47,0ZM0.32,0A0.32,0.32,0,1,0,-0.32,0A0.32,0.32,0,1,0,0.32,0Z"]}, "legend": {"title": null, "orient": "none", "legendX": 249, "legendY": -144, "symbolSize": 1024, "symbolOpacity": 1, "symbolFillColor": "black", "symbolStrokeColor": "black", "symbolStrokeWidth": 0, "labelFontSize": 18, "labelOffset": 16, "rowPadding": 8}}
    }}
  ]
 },
 {
  "data": {"name": "dataB"},
  "title": {"text": "B", "anchor": "start", "frame": "bounds", "fontSize": 28, "fontWeight": "bold", "dx": 12, "dy": 5},
  "facet": {"column": {"field": "i", "type": "nominal", "header": {"title": null, "labelFontSize": 18, "labelPadding": 8, "labelColor": "black"}}},
  "spacing": 13,
  "spec": {
   "width": 237, "height": 378,
   "layer": [
    {"transform": [{"filter": "datum.k === 's' && datum.b === '1' && datum.t === 'early'"}], "mark": {"type": "rule", "strokeDash": [1, 3], "color": "#333333", "strokeWidth": 1}, "encoding": {"y": {"datum": 0.5, "type": "quantitative"}}},
    {"transform": [{"filter": "datum.k === 'd'"}], "mark": {"type": "point", "filled": true, "size": 49, "opacity": 0.2, "color": "#f1844b"},
     "encoding": {
      "x": {"field": "b", "type": "nominal", "scale": {"type": "band", "domain": ["1","2","3","test"], "paddingInner": 0, "paddingOuter": 0.1}, "axis": {"title": "repetition block"}},
      "xOffset": {"field": "t", "type": "nominal", "scale": {"domain": ["early","delayed"], "paddingInner": 0, "paddingOuter": 0.25}},
      "y": {"field": "v", "type": "quantitative", "scale": {"domain": [-0.05, 1.05], "nice": false, "zero": false}, "axis": {"title": "accuracy", "values": [0, 0.25, 0.5, 0.75, 1], "format": ".2f"}}
     }},
    {"transform": [{"filter": "datum.k === 's' && datum.b !== 'test'"}], "mark": {"type": "line", "strokeWidth": 2, "color": "#f1844b"},
     "encoding": {
      "x": {"field": "b", "type": "nominal"},
      "xOffset": {"field": "t", "type": "nominal"},
      "y": {"field": "m", "type": "quantitative"},
      "strokeDash": {"field": "t", "type": "nominal", "scale": {"domain": ["early","delayed"], "range": [[1,0],[10,6]]}, "legend": null}
     }},
    {"transform": [{"filter": "datum.k === 's'"}], "mark": {"type": "rule", "strokeWidth": 2.5, "color": "#f1844b"},
     "encoding": {
      "x": {"field": "b", "type": "nominal"},
      "xOffset": {"field": "t", "type": "nominal"},
      "y": {"field": "lo", "type": "quantitative"},
      "y2": {"field": "hi"},
      "strokeDash": {"field": "t", "type": "nominal", "legend": null}
     }},
    {"transform": [{"filter": "datum.k === 's' && datum.t === 'early'"}], "mark": {"type": "point", "filled": true, "size": 256, "opacity": 1, "color": "#f1844b"},
     "encoding": {
      "x": {"field": "b", "type": "nominal"},
      "xOffset": {"field": "t", "type": "nominal"},
      "y": {"field": "m", "type": "quantitative"}
     }},
    {"transform": [{"filter": "datum.k === 's' && datum.t === 'delayed'"}], "mark": {"type": "point", "filled": false, "fill": "white", "size": 150, "strokeWidth": 2.5, "opacity": 1, "color": "#f1844b"},
     "encoding": {
      "x": {"field": "b", "type": "nominal"},
      "xOffset": {"field": "t", "type": "nominal"},
      "y": {"field": "m", "type": "quantitative"}
     }},
    {"transform": [{"filter": "datum.k === 's'"}], "mark": {"type": "point", "filled": true, "opacity": 0, "color": "#f1844b"},
     "encoding": {
      "x": {"field": "b", "type": "nominal"},
      "xOffset": {"field": "t", "type": "nominal"},
      "y": {"field": "m", "type": "quantitative"},
      "shape": {"field": "t", "type": "nominal", "scale": {"domain": ["early","delayed"], "range": ["M-1,-0.06H1V0.06H-1ZM-0.06,-0.82H0.06V0.82H-0.06ZM0.53,0A0.53,0.53,0,1,1,-0.53,0A0.53,0.53,0,1,1,0.53,0Z", "M-1,-0.06H-0.47V0.06H-1ZM0.47,-0.06H1V0.06H0.47ZM-0.06,-0.82H0.06V0.82H-0.06ZM0.47,0A0.47,0.47,0,1,1,-0.47,0A0.47,0.47,0,1,1,0.47,0ZM0.32,0A0.32,0.32,0,1,0,-0.32,0A0.32,0.32,0,1,0,0.32,0Z"]}, "legend": {"title": null, "orient": "none", "direction": "horizontal", "legendX": 99, "legendY": -113, "symbolSize": 1024, "symbolOpacity": 1, "symbolFillColor": "#f1844b", "symbolStrokeColor": "#f1844b", "symbolStrokeWidth": 0, "labelFontSize": 18, "labelOffset": 16, "columnPadding": 16}}
     }}
   ]
  }
 }
]
}
